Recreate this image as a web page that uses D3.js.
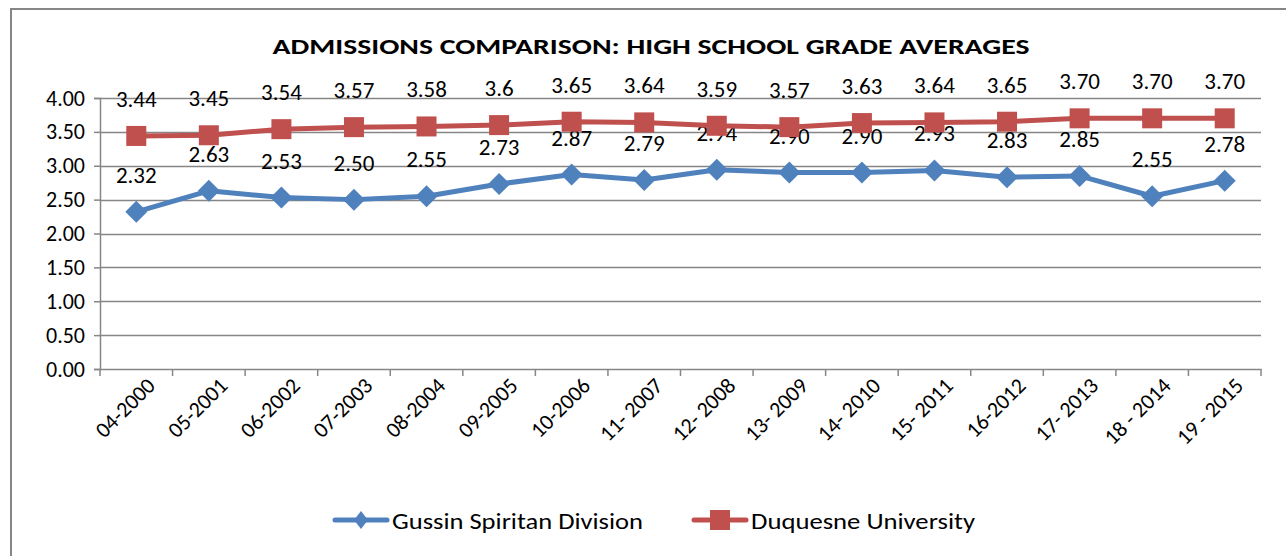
<!DOCTYPE html>
<html><head><meta charset="utf-8">
<script src="https://cdn.jsdelivr.net/npm/d3@7"></script>
<style>body{margin:0;background:#fff}svg{display:block}text{font-family:Carlito,Lato,"Liberation Sans",sans-serif}</style>
</head><body>
<svg id="c" width="1286" height="556"></svg>
<script>
const categories = ["04-2000","05-2001","06-2002","07-2003","08-2004","09-2005","10-2006","11- 2007","12- 2008","13- 2009","14- 2010","15- 2011","16-2012","17- 2013","18 - 2014","19 - 2015"];
const gussin = [2.32,2.63,2.53,2.50,2.55,2.73,2.87,2.79,2.94,2.90,2.90,2.93,2.83,2.85,2.55,2.78];
const gussinLabels = ["2.32","2.63","2.53","2.50","2.55","2.73","2.87","2.79","2.94","2.90","2.90","2.93","2.83","2.85","2.55","2.78"];
const duquesne = [3.44,3.45,3.54,3.57,3.58,3.6,3.65,3.64,3.59,3.57,3.63,3.64,3.65,3.70,3.70,3.70];
const duquesneLabels = ["3.44","3.45","3.54","3.57","3.58","3.6","3.65","3.64","3.59","3.57","3.63","3.64","3.65","3.70","3.70","3.70"];
const yTicks = [0,0.5,1,1.5,2,2.5,3,3.5,4];
const seriesNames = ["Gussin Spiritan Division","Duquesne University"];
const colors = ["#4F81BD","#C0504D"];

const svg = d3.select("#c");
svg.append("rect").attr("x",11).attr("y",9).attr("width",1290).attr("height",560).attr("fill","#fff").attr("stroke","#868686").attr("stroke-width",2);

const pLeft=100, pRight=1261, pTop=98, pBottom=369;
const x = d3.scaleBand().domain(categories).range([pLeft,pRight]);
const y = d3.scaleLinear().domain([0,4]).range([pBottom,pTop]);

svg.append("text").attr("x",651).attr("y",54).attr("text-anchor","middle")
  .attr("font-size",22).attr("font-weight","bold").attr("textLength",757).attr("lengthAdjust","spacingAndGlyphs")
  .text("ADMISSIONS COMPARISON:  HIGH SCHOOL GRADE AVERAGES");

// gridlines
svg.append("g").selectAll("line").data(yTicks.slice(1)).join("line")
  .attr("x1",pLeft).attr("x2",pRight).attr("y1",d=>Math.round(y(d))+0.5).attr("y2",d=>Math.round(y(d))+0.5)
  .attr("stroke","#868686").attr("stroke-width",1.5);

// y axis
const ya = svg.append("g").attr("transform",`translate(${pLeft},0)`)
  .call(d3.axisLeft(y).tickValues(yTicks).tickFormat(d3.format(".2f")).tickSize(6).tickPadding(9));
ya.select(".domain").attr("stroke","#868686").attr("stroke-width",1.5);
ya.selectAll(".tick line").attr("stroke","#868686").attr("stroke-width",1.5);
ya.selectAll(".tick text").attr("font-size",22).attr("fill","#000").attr("font-family","Carlito,Lato,sans-serif");

// x axis
const xa = svg.append("g").attr("transform",`translate(0,${pBottom})`)
  .call(d3.axisBottom(x).tickSize(0).tickPadding(0));
xa.select(".domain").attr("stroke","#868686").attr("stroke-width",1.5);
xa.selectAll(".tick text").remove();
const edges = categories.map((c,i)=>pLeft + i*x.bandwidth()).concat([pRight]);
xa.selectAll(".edge").data(edges).join("line").attr("class","edge")
  .attr("x1",d=>d).attr("x2",d=>d).attr("y1",0).attr("y2",7).attr("stroke","#868686").attr("stroke-width",1.5);
svg.append("g").selectAll("text").data(categories).join("text")
  .attr("transform",d=>`translate(${x(d)+x.bandwidth()/2+20},${pBottom+18}) rotate(-45)`)
  .attr("text-anchor","end").attr("font-size",22).text(d=>d);

const cx = d => x(d)+x.bandwidth()/2;
const line = d3.line().x((d,i)=>cx(categories[i])).y(d=>y(d));

function series(vals, labels, color, shape, labelOff){
  svg.append("path").datum(vals).attr("d",line).attr("fill","none").attr("stroke",color).attr("stroke-width",5).attr("stroke-linejoin","round");
  const g = svg.append("g");
  if(shape==="diamond"){
    g.selectAll("path").data(vals).join("path")
      .attr("d",(d,i)=>{const px=cx(categories[i]),py=y(d),r=11;return `M${px},${py-r}L${px+r},${py}L${px},${py+r}L${px-r},${py}Z`;})
      .attr("fill",color);
  } else {
    g.selectAll("rect").data(vals).join("rect")
      .attr("x",(d,i)=>cx(categories[i])-10).attr("y",d=>y(d)-10).attr("width",20).attr("height",20).attr("fill",color);
  }
  svg.append("g").selectAll("text").data(vals).join("text")
    .attr("x",(d,i)=>cx(categories[i])).attr("y",d=>y(d)-labelOff).attr("text-anchor","middle")
    .attr("font-size",23).text((d,i)=>labels[i]);
}
series(gussin,gussinLabels,colors[0],"diamond",29);
series(duquesne,duquesneLabels,colors[1],"square",29);

// legend
const lg = svg.append("g");
const ly = 520;
const items=[{x:333,name:seriesNames[0],c:colors[0],s:"diamond",w:251},{x:692,name:seriesNames[1],c:colors[1],s:"square",w:224}];
items.forEach(it=>{
  lg.append("line").attr("x1",it.x+2).attr("x2",it.x+54).attr("y1",ly).attr("y2",ly).attr("stroke",it.c).attr("stroke-width",5).attr("stroke-linecap","round");
  if(it.s==="diamond") lg.append("path").attr("d",`M${it.x+28},${ly-9}L${it.x+35},${ly}L${it.x+28},${ly+9}L${it.x+21},${ly}Z`).attr("fill",it.c);
  else lg.append("rect").attr("x",it.x+18).attr("y",ly-10).attr("width",20).attr("height",20).attr("fill",it.c);
  lg.append("text").attr("x",it.x+59).attr("y",ly+9).attr("font-size",23)
    .attr("textLength",it.w).attr("lengthAdjust","spacingAndGlyphs").text(it.name);
});
</script>
</body></html>
